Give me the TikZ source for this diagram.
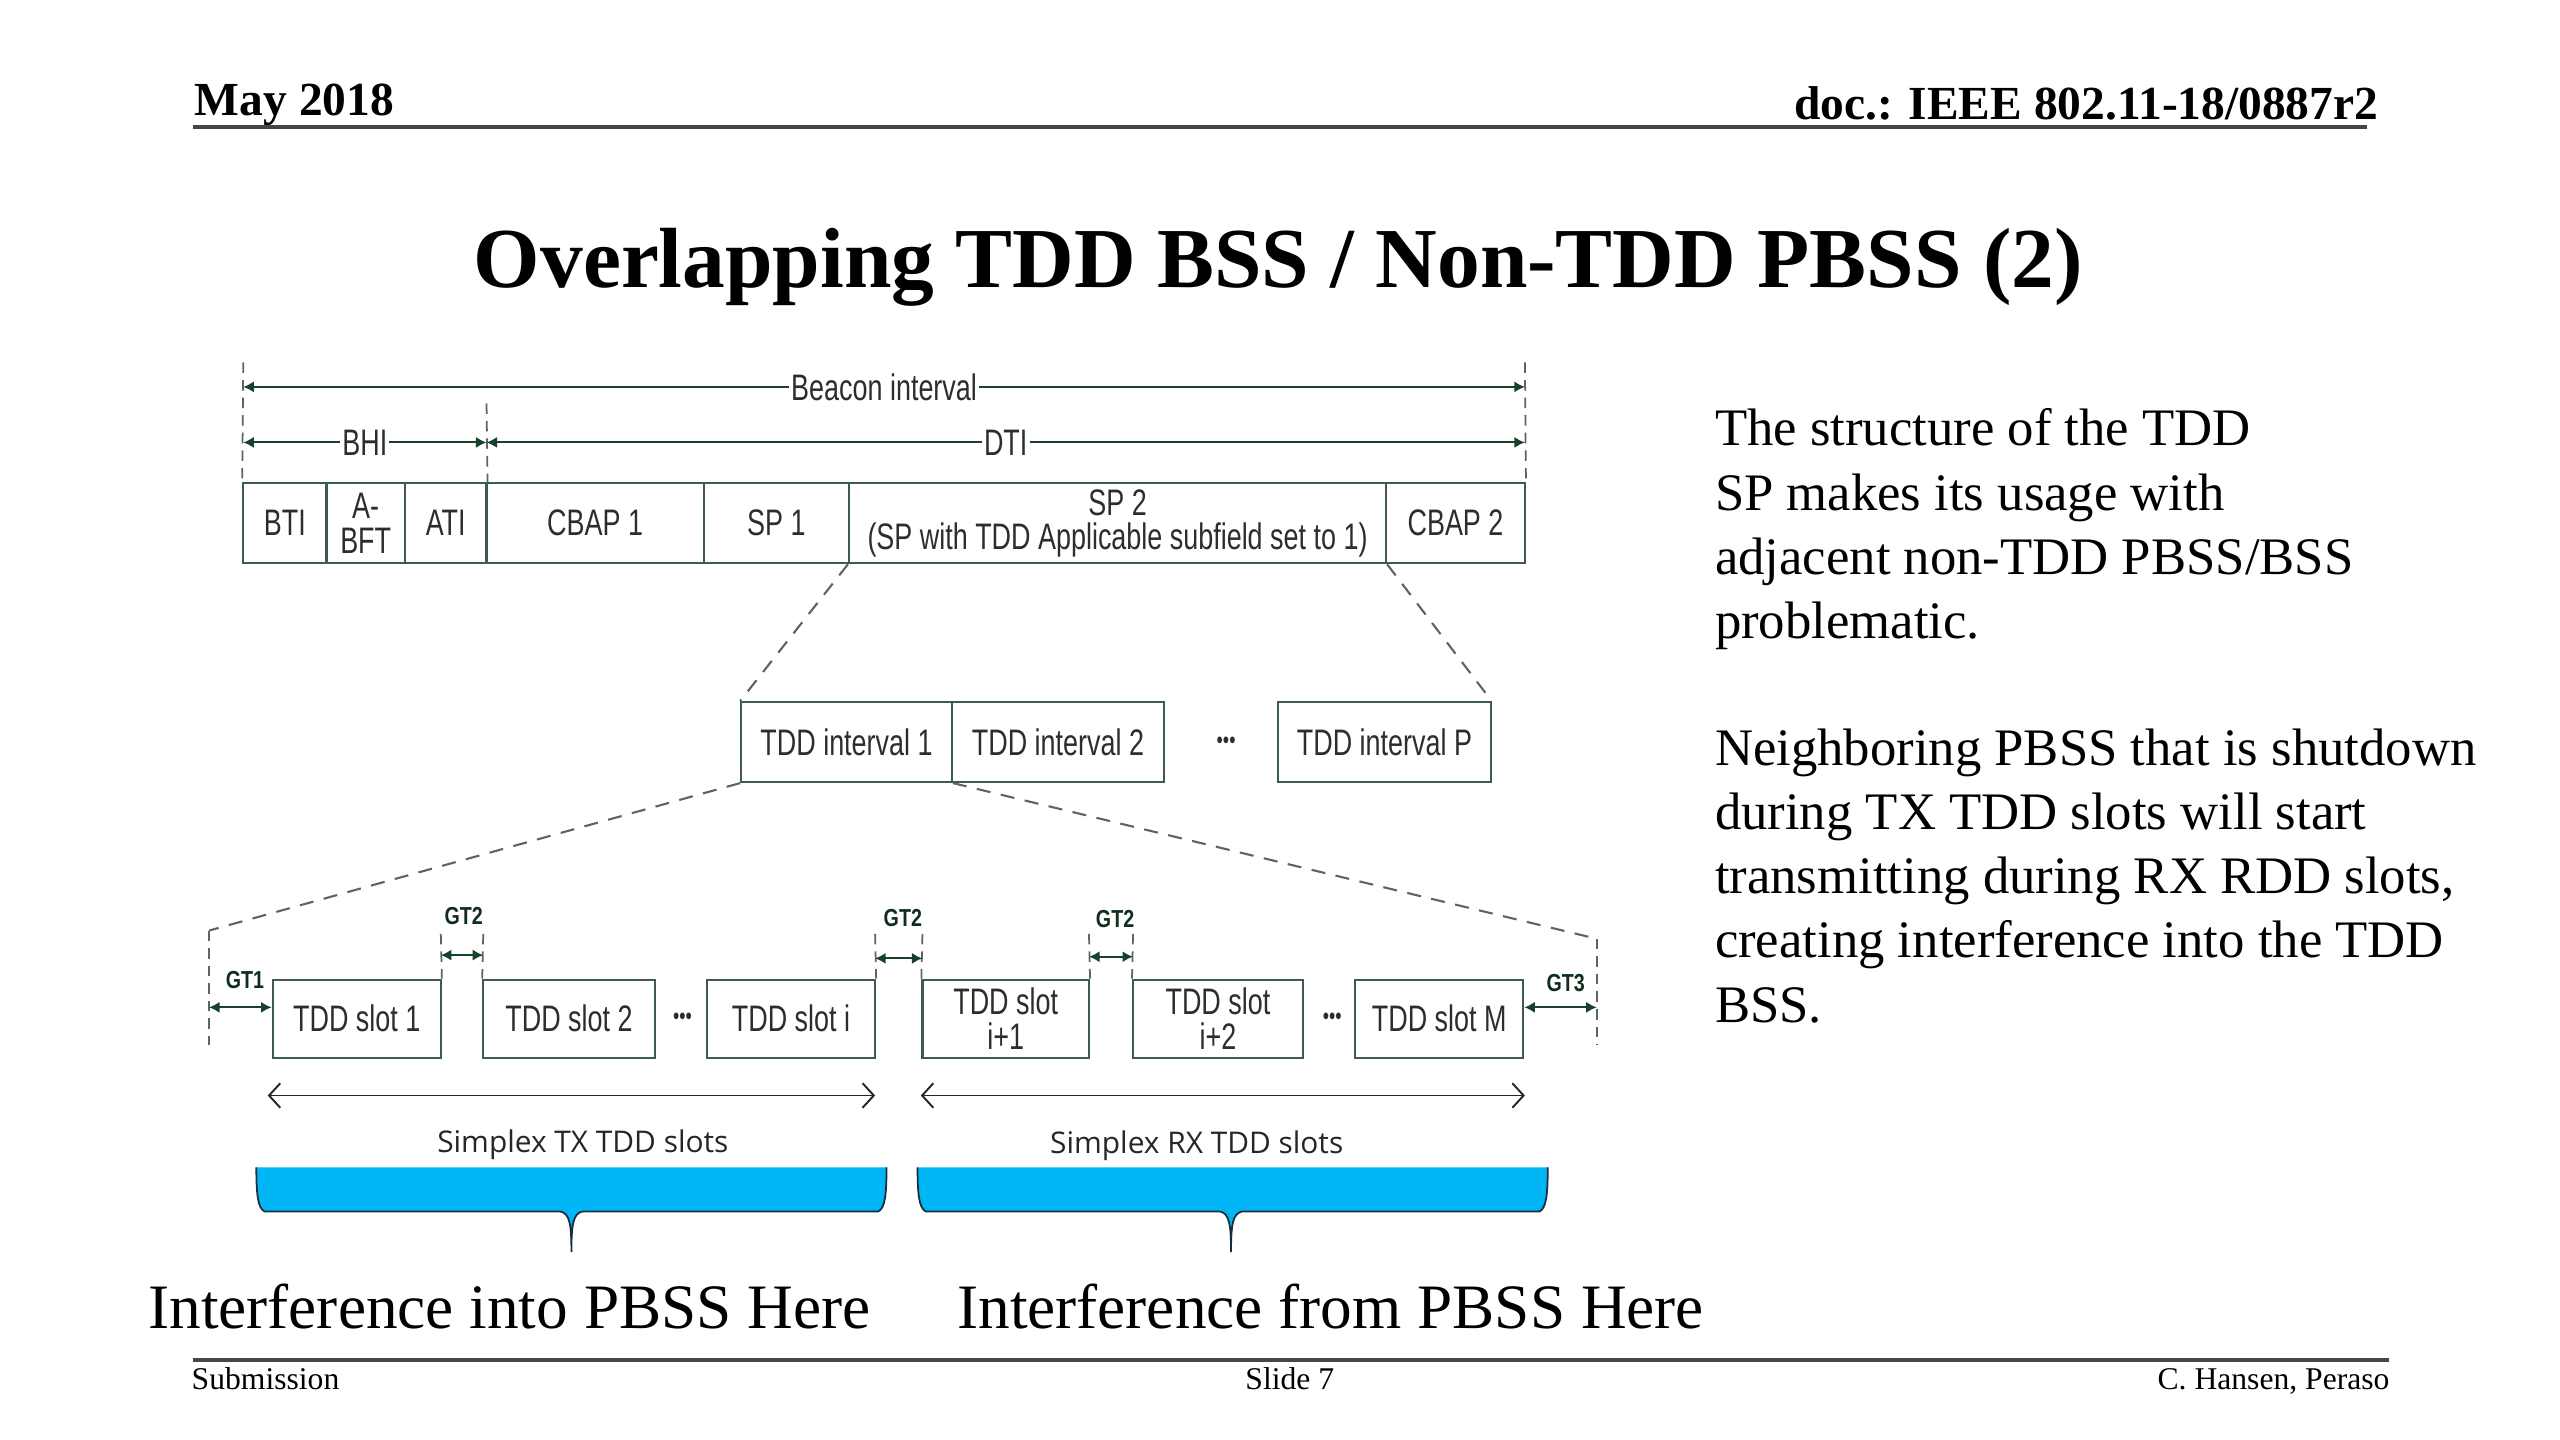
\documentclass[tikz,border=0pt]{standalone}
\usepackage{fontspec}
\setmainfont{Liberation Serif}
\newfontfamily\diagfont[FakeStretch=0.73]{Liberation Sans}
\newfontfamily\gtfont[FakeStretch=0.8]{Liberation Sans}
\newfontfamily\capfont{Open Sans}
\usetikzlibrary{positioning,arrows.meta,calc}
\definecolor{frame}{RGB}{62,92,76}
\definecolor{dimarr}{RGB}{22,66,42}
\definecolor{guidegray}{RGB}{95,100,98}
\definecolor{txt}{RGB}{45,45,45}
\definecolor{bracefill}{RGB}{0,182,245}
\definecolor{braceedge}{RGB}{25,45,60}
\definecolor{rulegray}{RGB}{70,70,70}
\tikzset{
  cell/.style={draw=frame,line width=0.6pt,inner sep=0pt,align=center,text=txt,
    font=\diagfont\fontsize{10.5}{9.8}\selectfont},
  dots/.style={inner sep=0pt,text=txt,font=\diagfont\fontsize{7}{8}\selectfont},
  guide/.style={draw=guidegray,line width=0.5pt,dash pattern=on 3pt off 2pt},
  zoomline/.style={draw=guidegray,line width=0.6pt,dash pattern=on 4pt off 3pt},
  dimline/.style={draw=dimarr,line width=0.6pt,
    {Latex[length=3pt,width=3.2pt]}-{Latex[length=3pt,width=3.2pt]}},
  dimlbl/.style={fill=white,inner sep=0.6pt,text=txt,font=\diagfont\fontsize{10.5}{11}\selectfont},
  gtlbl/.style={inner sep=0pt,text=dimarr!70!black,font=\gtfont\bfseries\fontsize{7}{8}\selectfont},
  spanline/.style={draw=black!85,line width=0.55pt,
    {Straight Barb[length=3.2pt,width=7pt]}-{Straight Barb[length=3.2pt,width=7pt]}},
  spanlbl/.style={inner sep=0pt,text=black!85,font=\capfont\fontsize{8.5}{10}\selectfont},
  slidetxt/.style={inner sep=0pt,text=black},
  braceline/.style={draw=braceedge,line width=0.5pt},
}
% box spanning x1..x2, y1..y2 (slide pixels): name, x1, x2, y1, y2, text
\newcommand{\tddcell}[6]{%
  \node[cell,minimum width={(#3-#2)*0.16327mm},minimum height={(#5-#4)*0.16327mm}]
    (#1) at ({(#2+#3)/2},{(#4+#5)/2}) {#6};}
% curly bracket: left x, right x, tip x
\newcommand{\pbrace}[3]{%
  \fill[bracefill] (#1,715) .. controls (#1,732) and (#1+1,740) .. (#1+5,742)
    -- (#3-7,742) .. controls (#3-1,743) and (#3,750) .. (#3,767)
    .. controls (#3,750) and (#3+1,743) .. (#3+7,742)
    -- (#2-5,742) .. controls (#2-1,740) and (#2,732) .. (#2,715) -- cycle;
  \draw[braceline] (#1,715) .. controls (#1,732) and (#1+1,740) .. (#1+5,742)
    -- (#3-7,742) .. controls (#3-1,743) and (#3,750) .. (#3,767)
    .. controls (#3,750) and (#3+1,743) .. (#3+7,742)
    -- (#2-5,742) .. controls (#2-1,740) and (#2,732) .. (#2,715);}

\begin{document}
\begin{tikzpicture}[x=0.16327mm,y=-0.16327mm]
\useasboundingbox (0,0) rectangle (1568,882);
% ---- slide header ----
\node[slidetxt,anchor=base west,font=\bfseries\fontsize{13.5}{16}\selectfont] (date) at (119,71) {May 2018};
\node[slidetxt,anchor=base east,font=\bfseries\fontsize{13.5}{16}\selectfont] (docid) at (1457,73) {doc.: IEEE 802.11-18/0887r2};
\draw[rulegray,line width=1.2pt] (118,78) -- (1450,78);
\node[slidetxt,anchor=base,font=\bfseries\fontsize{24.3}{28}\selectfont] (title) at (783,176) {Overlapping TDD BSS / Non-TDD PBSS (2)};
% ---- beacon interval row ----
\tddcell{bti}{149}{200}{296}{345}{BTI}
\tddcell{abft}{200}{248}{296}{345}{A-\\BFT}
\tddcell{ati}{248}{298}{296}{345}{ATI}
\tddcell{cbap1}{298}{431}{296}{345}{CBAP 1}
\tddcell{sp1}{431}{520}{296}{345}{SP 1}
\tddcell{sp2}{520}{849}{296}{345}{SP 2\\(SP with TDD Applicable subfield set to 1)}
\tddcell{cbap2}{849}{934}{296}{345}{CBAP 2}
\coordinate (bi-top) at (149,222);
\coordinate (be-top) at (934,222);
\coordinate (dti-top) at (298,247);
\draw[guide] (bi-top) -- (bti.north west);
\draw[guide] (be-top) -- (cbap2.north east);
\draw[guide] (dti-top) -- (ati.north east);
\coordinate (bi-l) at (149,237);
\coordinate (bi-r) at (934,237);
\draw[dimline] (bi-l) -- node[dimlbl] (bilbl) {Beacon interval} (bi-r);
\coordinate (bhi-l) at (149,271);
\coordinate (bhi-r) at (298,271);
\coordinate (dti-r) at (934,271);
\draw[dimline] (bhi-l) -- node[dimlbl] (bhilbl) {BHI} (bhi-r);
\draw[dimline] (bhi-r) -- node[dimlbl] (dtilbl) {DTI} (dti-r);
% ---- TDD intervals ----
\tddcell{tdd1}{454}{583}{430}{479}{TDD interval 1}
\tddcell{tdd2}{583}{713}{430}{479}{TDD interval 2}
\node[dots] (tdddots) at (751,455) {•••};
\tddcell{tddP}{783}{913}{430}{479}{TDD interval P}
\draw[zoomline] (sp2.south west) -- (tdd1.north west);
\draw[zoomline] (sp2.south east) -- (tddP.north east);
% ---- TDD slots ----
\tddcell{slot1}{167}{270}{600}{648}{TDD slot 1}
\tddcell{slot2}{296}{401}{600}{648}{TDD slot 2}
\node[dots] (slotdotsa) at (418,624) {•••};
\tddcell{sloti}{433}{536}{600}{648}{TDD slot i}
\tddcell{slotia}{565}{667}{600}{648}{TDD slot\\i+1}
\tddcell{slotib}{694}{798}{600}{648}{TDD slot\\i+2}
\node[dots] (slotdotsb) at (816,624) {•••};
\tddcell{slotM}{830}{933}{600}{648}{TDD slot M}
\coordinate (gt1-top) at (128,570);
\coordinate (gt1-bot) at (128,640);
\coordinate (gt3-top) at (978,575);
\coordinate (gt3-bot) at (978,640);
\draw[zoomline] (tdd1.south west) -- (gt1-top);
\draw[zoomline] (tdd1.south east) -- (gt3-top);
\draw[guide] (gt1-top) -- (gt1-bot);
\draw[guide] (gt3-top) -- (gt3-bot);
% guard times
\coordinate (gt1-a) at (128,617);
\coordinate (gt3-a) at (978,617);
\draw[dimline] (gt1-a) -- (slot1.west |- gt1-a);
\draw[dimline] (slotM.east |- gt3-a) -- (gt3-a);
\node[gtlbl] (gt1) at (150,600) {GT1};
\node[gtlbl] (gt3) at (959,602) {GT3};
\coordinate (gt2a-l) at (270,572);
\coordinate (gt2a-r) at (296,572);
\draw[guide] (gt2a-l) -- (slot1.north east);
\draw[guide] (gt2a-r) -- (slot2.north west);
\draw[dimline] ($(gt2a-l)+(0,13)$) -- ($(gt2a-r)+(0,13)$);
\node[gtlbl] (gt2a) at (284,561) {GT2};
\coordinate (gt2b-l) at (536,572);
\coordinate (gt2b-r) at (565,572);
\draw[guide] (gt2b-l) -- (sloti.north east);
\draw[guide] (gt2b-r) -- (slotia.north west);
\draw[dimline] ($(gt2b-l)+(0,15)$) -- ($(gt2b-r)+(0,15)$);
\node[gtlbl] (gt2b) at (553,562) {GT2};
\coordinate (gt2c-l) at (667,572);
\coordinate (gt2c-r) at (694,572);
\draw[guide] (gt2c-l) -- (slotia.north east);
\draw[guide] (gt2c-r) -- (slotib.north west);
\draw[dimline] ($(gt2c-l)+(0,14)$) -- ($(gt2c-r)+(0,14)$);
\node[gtlbl] (gt2c) at (683,563) {GT2};
% ---- simplex spans ----
\coordinate (tx-l) at (164,671);
\coordinate (tx-r) at (536,671);
\coordinate (rx-l) at (564,671);
\coordinate (rx-r) at (934,671);
\draw[spanline] (tx-l) -- (tx-r);
\draw[spanline] (rx-l) -- (rx-r);
\node[spanlbl] (txlbl) at (357,701) {Simplex TX TDD slots};
\node[spanlbl] (rxlbl) at (733,702) {Simplex RX TDD slots};
\pbrace{157}{543}{350}
\pbrace{562}{948}{754}
\node[slidetxt,anchor=base,font=\fontsize{18}{21}\selectfont] (intoP) at (312,814) {Interference into PBSS Here};
\node[slidetxt,anchor=base,font=\fontsize{18}{21}\selectfont] (fromP) at (815,814) {Interference from PBSS Here};
% ---- notes ----
\node[slidetxt,anchor=north west,align=left,font=\fontsize{15}{18.25}\selectfont] (notea) at (1050,250)
  {The structure of the TDD\\SP makes its usage with\\adjacent non-TDD PBSS/BSS\\problematic.};
\node[slidetxt,anchor=north west,align=left,font=\fontsize{15}{18.25}\selectfont] (noteb) at (1050,446)
  {Neighboring PBSS that is shutdown\\during TX TDD slots will start\\transmitting during RX RDD slots,\\creating interference into the TDD\\BSS.};
% ---- footer ----
\draw[rulegray,line width=1.2pt] (118,833) -- (1463,833);
\node[slidetxt,anchor=base west,font=\fontsize{9}{11}\selectfont] (subm) at (117,851) {Submission};
\node[slidetxt,anchor=base,font=\fontsize{9}{11}\selectfont] (slideno) at (790,851) {Slide 7};
\node[slidetxt,anchor=base east,font=\fontsize{9}{11}\selectfont] (author) at (1464,851) {C. Hansen, Peraso};
\end{tikzpicture}
\end{document}
